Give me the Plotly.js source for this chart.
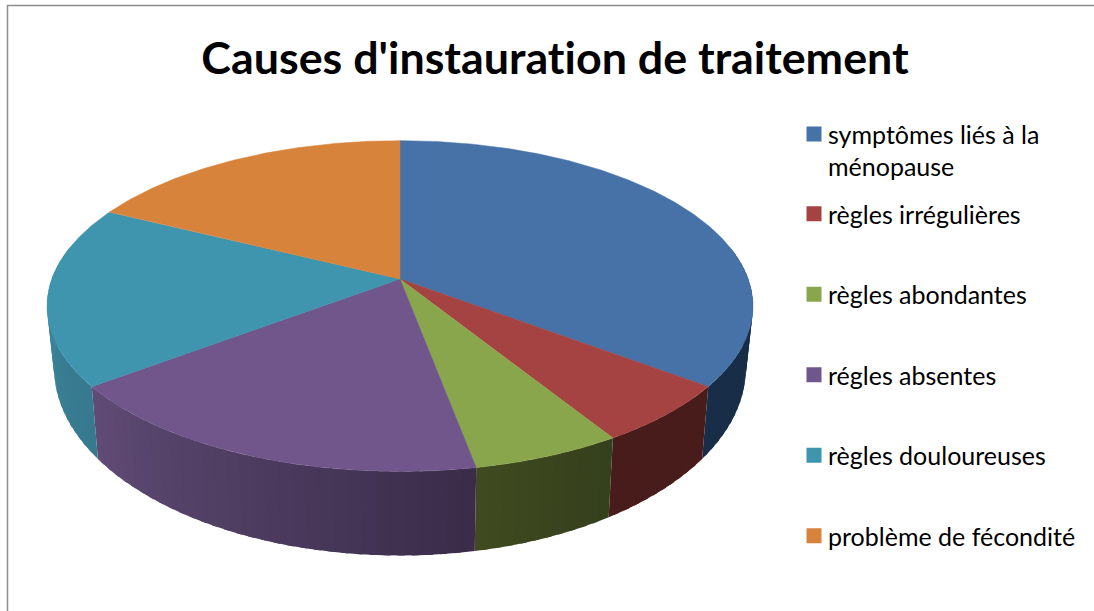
<!DOCTYPE html>
<html><head><meta charset="utf-8">
<script src="https://cdn.plot.ly/plotly-3.0.1.min.js"></script>
<style>html,body{margin:0;padding:0;background:#fff}#c{width:1094px;height:611px}svg text{font-variant-ligatures:none !important;font-feature-settings:"liga" 0,"clig" 0 !important}</style>
</head><body><div id="c"></div>
<script>
const categories = ["symptômes liés à la<br>ménopause","règles irrégulières","règles abondantes","régles absentes","règles douloureuses","problème de fécondité"];
const values = [6,1,1,3,3,3];
const faceColors = ["#4672A8","#A54342","#8AA64D","#71568C","#3F95AE","#D8833C"];
const sideLeft  = ["#182D47","#471C1A","#3F4A20","#604B76","#3C889F","#A5632C"];
const sideRight = ["#182D47","#471C1A","#353F1C","#3A2B49","#37798E","#A5632C"];

// Projection of the tilted pie on the page
const cx=400, cy=279, k=0.1636, a=161, b=348.2, depth=58.8, shrink=0.98;
function rimTop(t){const u=Math.sin(t),v=Math.cos(t),d=1+k*v;return [cx+b*u/d, cy-a*v/d];}
function rimBottom(t){const p=rimTop(t),d=1+k*Math.cos(t);return [cx+(p[0]-cx)*shrink, p[1]+depth/(d*d)];}
function hex(c){return [1,3,5].map(i=>parseInt(c.substr(i,2),16));}
function mix(c1,c2,f){const A=hex(c1),B=hex(c2);return "rgb("+A.map((x,i)=>Math.round(x+(B[i]-x)*f)).join(",")+")";}
const rad=Math.PI/180, total=values.reduce((s,v)=>s+v,0);

const data=[];
// legend entries (one group each, so that the group gap spaces them)
categories.forEach((name,i)=>data.push({type:"scatter",mode:"markers",x:[cx],y:[cy],name:name,legendgroup:"g"+i,
  marker:{symbol:"square",size:15,color:faceColors[i]},hoverinfo:"skip"}));

// side wall: each band runs on under the next one, so no seam shows
let acc=0;
values.forEach((val,i)=>{
  const s=acc, e=acc+val/total*360; acc=e;
  const from=Math.max(s,78), to=Math.min(e,282);
  if(to<=from) return;
  const n=Math.max(1,Math.ceil((to-from)/2));
  for(let j=0;j<n;j++){
    const t0=(from+(to-from)*j/n)*rad, t1=(from+(to-from)*Math.min(n,j+1.5)/n)*rad;
    const xs=[],ys=[];
    for(let q=0;q<=3;q++){const p=rimTop(t0+(t1-t0)*q/3);xs.push(p[0]);ys.push(p[1]);}
    for(let q=3;q>=0;q--){const p=rimBottom(t0+(t1-t0)*q/3);xs.push(p[0]);ys.push(p[1]);}
    xs.push(xs[0]);ys.push(ys[0]);
    const col=mix(sideRight[i],sideLeft[i],(j+.5)/n);
    data.push({type:"scatter",mode:"lines",x:xs,y:ys,fill:"toself",fillcolor:col,
      line:{width:0},showlegend:false,hoverinfo:"skip"});
  }
});
// top face
acc=0;
values.forEach((val,i)=>{
  const s=acc, e=acc+val/total*360; acc=e;
  const xs=[cx],ys=[cy];
  for(let d=s;;d+=0.5){const q=rimTop(Math.min(d,e)*rad);xs.push(q[0]);ys.push(q[1]);if(d>=e)break;}
  xs.push(cx);ys.push(cy);
  data.push({type:"scatter",mode:"lines",x:xs,y:ys,fill:"toself",fillcolor:faceColors[i],
    line:{color:faceColors[i],width:.5},showlegend:false,hoverinfo:"skip"});
});

const layout={
  width:1094,height:611,margin:{l:0,r:0,t:0,b:0},paper_bgcolor:"#fff",plot_bgcolor:"#fff",
  title:{text:"<b>Causes d'instauration de traitement</b>",x:555/1094,xanchor:"center",y:1-58/611,yanchor:"middle",
    font:{family:"Lato, sans-serif",size:44.8,color:"#000"}},
  xaxis:{range:[0,1094],visible:false,fixedrange:true},
  yaxis:{range:[611,0],visible:false,fixedrange:true},
  legend:{x:788/1094,xanchor:"left",y:1-78/611,yanchor:"top",tracegroupgap:45,bgcolor:"rgba(0,0,0,0)",
    font:{family:"Lato, sans-serif",size:25,color:"#000"},traceorder:"grouped"},
  shapes:[
    {type:"line",xref:"paper",yref:"paper",x0:7/1094,x1:1,y0:1-5.5/611,y1:1-5.5/611,line:{color:"#8c8c8c",width:1.5}},
    {type:"line",xref:"paper",yref:"paper",x0:7.5/1094,x1:7.5/1094,y0:0,y1:1-5/611,line:{color:"#8c8c8c",width:1.5}}
  ],
  showlegend:true
};
Plotly.newPlot("c",data,layout,{displayModeBar:false}).then(()=>{
  // markers sit closer to their text than the default; first entry's marker aligns with its first line
  const syms=document.querySelectorAll("#c .legendsymbols");
  syms.forEach((n,i)=>n.setAttribute("transform",i===0?"translate(6,-16)":"translate(6,0)"));
  const first=document.querySelector("#c .legend .groups");
  if(first){
    const m=/translate\(([-\d.]+)[ ,]*([-\d.]*)\)/.exec(first.getAttribute("transform")||"");
    const x0=m?+m[1]:0,y0=m&&m[2]?+m[2]:0;
    first.setAttribute("transform","translate("+x0+","+(y0+33)+")");
  }
});
</script></body></html>
